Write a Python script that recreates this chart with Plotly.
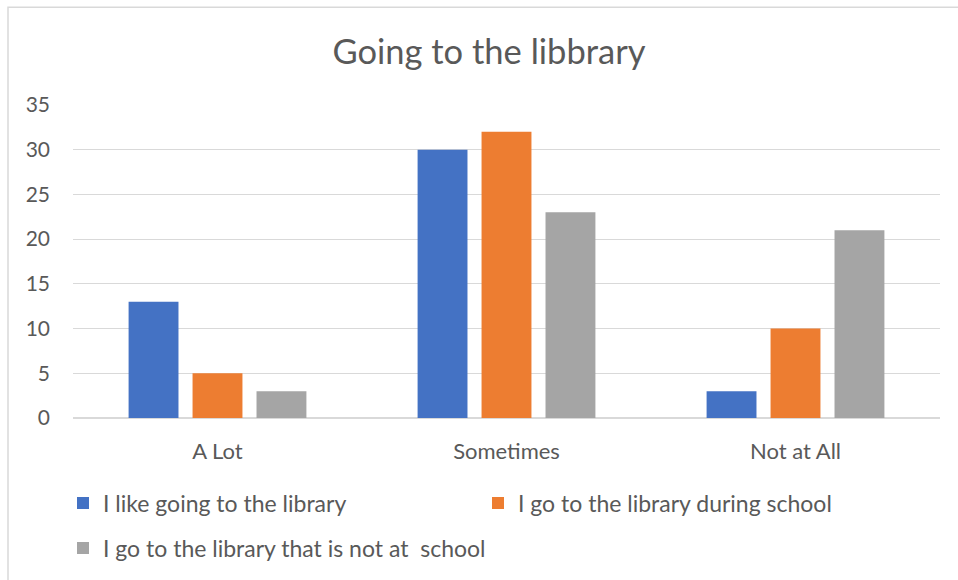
import plotly.graph_objects as go

categories = ["A Lot", "Sometimes", "Not at All"]
series_names = [
    "I like going to the library",
    "I go to the library during school",
    "I go to the library that is not at  school",
]
like_going = [13, 30, 3]
during_school = [5, 32, 10]
not_at_school = [3, 23, 21]
colors = ["#4472C4", "#ED7D31", "#A5A5A5"]
legend_ids = ["legend", "legend", "legend2"]
y_ticks = [0, 5, 10, 15, 20, 25, 30, 35]

FONT = "Lato"
TXT = "#595959"

fig = go.Figure()
for name, vals, col, lg in zip(series_names, [like_going, during_school, not_at_school], colors, legend_ids):
    fig.add_trace(go.Bar(x=categories, y=vals, name=name, legend=lg,
                         marker=dict(color=col, line=dict(width=0))))

L, R, T, B = 73, 18, 105, 161
PW, PH = 958 - L - R, 580 - T - B


def px_x(p):
    return (p - L) / PW


def px_y(p):
    return (580 - B - p) / PH


leg_common = dict(orientation="h", xanchor="left", yanchor="middle",
                  font=dict(family=FONT, size=23, color=TXT), itemwidth=30,
                  bgcolor="rgba(0,0,0,0)")

fig.update_layout(
    width=958, height=580,
    margin=dict(l=L, r=R, t=T, b=B),
    paper_bgcolor="white", plot_bgcolor="white",
    barmode="group", bargap=0.336, bargroupgap=0.22,
    title=dict(text="Going to the libbrary", x=px_x(489), xref="paper", xanchor="center",
               y=1 - 52 / 580, yanchor="middle",
               font=dict(family=FONT, size=34.5, color=TXT)),
    font=dict(family=FONT, size=22, color=TXT),
    legend=dict(x=px_x(63), y=px_y(503), entrywidth=370, entrywidthmode="pixels", **leg_common),
    legend2=dict(x=px_x(63), y=px_y(548), **leg_common),
    showlegend=True,
)
fig.update_yaxes(range=[0, 35], tickvals=y_ticks, showgrid=True, gridcolor="#D9D9D9", gridwidth=1,
                 zeroline=True, zerolinecolor="#D9D9D9", showline=False, ticklabelstandoff=22,
                 tickfont=dict(family=FONT, size=21, color=TXT), fixedrange=True)
fig.update_xaxes(showline=False, ticklabelstandoff=18, tickfont=dict(family=FONT, size=22, color=TXT))

fig.add_shape(type="rect", xref="paper", yref="paper",
              x0=px_x(8), x1=px_x(975), y0=px_y(600), y1=px_y(7),
              line=dict(color="#D9D9D9", width=1.5), fillcolor="rgba(0,0,0,0)", layer="below")

fig.write_html("out.html")
